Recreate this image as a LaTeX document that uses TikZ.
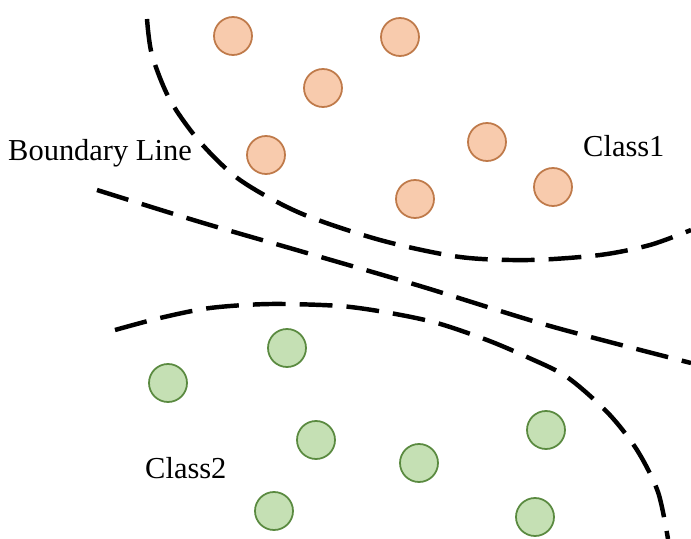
\documentclass[tikz,border=0pt]{standalone}
\usepackage{fontspec}
\newfontfamily\tekstfont{Liberation Serif}
\usepackage{tikz}

\definecolor{klasseenfyld}{HTML}{F8CBAD}
\definecolor{klasseenkant}{HTML}{BF7A4A}
\definecolor{klassetofyld}{HTML}{C5E0B4}
\definecolor{klassetokant}{HTML}{5A8A40}

\tikzset{
  punkt/.style={circle,minimum size=1.14cm,inner sep=0pt,line width=1.5pt},
  klasseen/.style={punkt,draw=klasseenkant,fill=klasseenfyld},
  klasseto/.style={punkt,draw=klassetokant,fill=klassetofyld},
  graense/.style={line width=3.8pt,dash pattern=on 28pt off 12pt},
  tekst/.style={font=\tekstfont\fontsize{26}{30}\selectfont,inner sep=0pt,anchor=west}
}

\begin{document}
\begin{tikzpicture}[x=0.03cm,y=-0.03cm]
\useasboundingbox (0,0) rectangle (691,539);
% tegn punkter for klasse 1
 \node[klasseen] (a1) at (233,36) {};
 \node[klasseen] (a2) at (400,37) {};
 \node[klasseen] (a3) at (323,88) {};
 \node[klasseen] (a4) at (266,155) {};
 \node[klasseen] (a5) at (487,142) {};
 \node[klasseen] (a6) at (415,199) {};
 \node[klasseen] (a7) at (553,187) {};
% tegn punkter for klasse 2
 \node[klasseto] (b1) at (287,348) {};
 \node[klasseto] (b2) at (168,383) {};
 \node[klasseto] (b3) at (316,440) {};
 \node[klasseto] (b4) at (419,463) {};
 \node[klasseto] (b5) at (546,430) {};
 \node[klasseto] (b6) at (274,511) {};
 \node[klasseto] (b7) at (535,517) {};
% tegn graenselinier
\draw[graense] plot[smooth] coordinates {(147,19) (152,55) (170,100) (200,142) (240,180) (300,213) (380,240) (460,257) (530,260) (600,255) (650,245) (691,230)};
\draw[graense] plot[smooth] coordinates {(97,190) (200,222) (300,251) (420,286) (550,326) (691,363)};
\draw[graense] plot[smooth] coordinates {(115,330) (160,318) (210,308) (270,304) (340,306) (390,313) (437,323) (487,340) (527,357) (567,377) (608,413) (637,450) (658,492) (668,539)};
% tekster
 \node[tekst] (grl) at (8,153) {Boundary Line};
 \node[tekst] (k1) at (583,146) {Class1};
 \node[tekst] (k2) at (145,468) {Class2};
\end{tikzpicture}
\end{document}
